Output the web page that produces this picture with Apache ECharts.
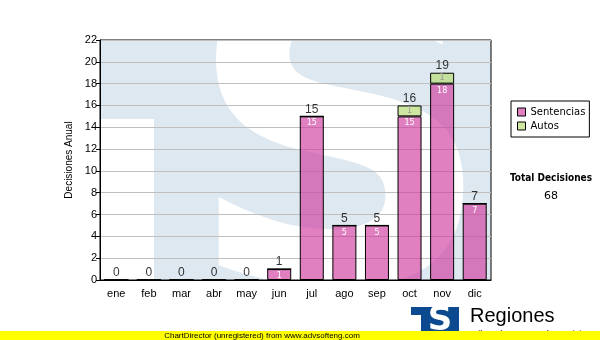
<!DOCTYPE html>
<html><head><meta charset="utf-8">
<script src="https://cdn.jsdelivr.net/npm/echarts@6/dist/echarts.min.js"></script>
<style>html,body{margin:0;padding:0;background:#fff}#c{width:600px;height:340px}</style>
</head><body><div id="c"></div>
<script>
const months = ['ene','feb','mar','abr','may','jun','jul','ago','sep','oct','nov','dic'];
const sentencias = [0,0,0,0,0,1,15,5,5,15,18,7];
const autos = [0,0,0,0,0,0,0,0,0,1,1,0];
const totals = months.map((m,i)=>sentencias[i]+autos[i]);
const grandTotal = totals.reduce((a,b)=>a+b,0);

const chart = echarts.init(document.getElementById('c'), null, {renderer:'canvas'});
const sans = 'Liberation Sans';
const dv = 'DejaVu Sans';
const PL=100, PT=40, PR=491, PB=280;
const wmBlue = '#dee8f1';

chart.setOption({
  animation:false,
  backgroundColor:'#fff',
  grid:{left:PL, top:PT, right:600-PR, bottom:340-PB, show:true, borderColor:'#000', borderWidth:1, backgroundColor:'transparent'},
  legend:{orient:'vertical', left:511, top:101, data:['Sentencias','Autos'], borderColor:'#000', borderWidth:1,
    padding:[6,4,6,6], itemWidth:8, itemHeight:8, itemGap:4, icon:'rect',
    itemStyle:{borderColor:'#000', borderWidth:1},
    textStyle:{fontFamily:dv, fontSize:10, color:'#000'}},
  xAxis:{type:'category', data:months, boundaryGap:true,
    axisLine:{lineStyle:{color:'#000'}},
    axisTick:{alignWithLabel:true, length:4, lineStyle:{color:'#000'}},
    axisLabel:{fontFamily:sans, fontSize:11, color:'#000', margin:8}},
  yAxis:{type:'value', min:0, max:22, interval:2,
    name:'Decisiones Anual', nameLocation:'middle', nameGap:19, nameRotate:90,
    nameTextStyle:{fontFamily:sans, fontSize:10, color:'#000'},
    axisLine:{show:true, lineStyle:{color:'#000'}},
    axisTick:{show:true, length:4, lineStyle:{color:'#000'}},
    axisLabel:{fontFamily:sans, fontSize:11, color:'#000', margin:3},
    splitLine:{lineStyle:{color:'#bfbfbf'}}},
  series:[
    {name:'Sentencias', type:'bar', stack:'t', barWidth:24, data:sentencias,
     itemStyle:{color:'rgba(208,60,158,0.65)', borderColor:'#000', borderWidth:1},
     label:{show:true, position:'insideTop', distance:3, color:'#fff', fontSize:8, fontFamily:dv,
       formatter:p=>p.value>0?String(p.value):''}},
    {name:'Autos', type:'bar', stack:'t', barWidth:24, data:autos,
     itemStyle:{color:'rgba(180,220,110,0.65)', borderColor:'#000', borderWidth:1},
     label:{show:true, position:'inside', color:'#999', fontSize:8, fontFamily:dv,
       formatter:p=>p.value>0?String(p.value):''}},
    {name:'Total', type:'scatter', data:totals, symbolSize:0, silent:true, z:5,
     label:{show:true, position:'top', distance:1, color:'#000', fontSize:12, fontFamily:sans}}
  ],
  graphic:[
    {type:'rect', z:-5, silent:true, shape:{x:PL,y:PT,width:PR-PL,height:PB-PT}, style:{fill:wmBlue}},
    {type:'rect', z:-4, silent:true, shape:{x:PL,y:119,width:54,height:PB-119}, style:{fill:'#fff'}},
    {type:'text', z:-4, silent:true, x:340, y:170, style:{text:'S', fill:'#fff', font:'bold 430px "DejaVu Sans"', align:'center', verticalAlign:'middle'}},
    {type:'rect', z:-3, silent:true, shape:{x:0,y:0,width:600,height:PT}, style:{fill:'#fff'}},
    {type:'rect', z:-3, silent:true, shape:{x:0,y:PB,width:600,height:340-PB}, style:{fill:'#fff'}},
    {type:'rect', z:-3, silent:true, shape:{x:0,y:0,width:PL,height:340}, style:{fill:'#fff'}},
    {type:'rect', z:-3, silent:true, shape:{x:PR,y:0,width:600-PR,height:340}, style:{fill:'#fff'}},
    {type:'text', z:10, silent:true, x:551, y:178, style:{text:'Total Decisiones', fill:'#000', font:'bold 10px "DejaVu Sans Condensed", "DejaVu Sans"', align:'center', verticalAlign:'middle'}},
    {type:'text', z:10, silent:true, x:551, y:196, style:{text:String(grandTotal), fill:'#000', font:'11px "DejaVu Sans"', align:'center', verticalAlign:'middle'}},
    {type:'rect', z:10, silent:true, shape:{x:411,y:307,width:48,height:30}, style:{fill:'#0b4a8e'}},
    {type:'rect', z:11, silent:true, shape:{x:411,y:315,width:10,height:25}, style:{fill:'#fff'}},
    {type:'text', z:11, silent:true, x:440, y:321, style:{text:'S', fill:'#fff', font:'bold 34px "DejaVu Sans"', align:'center', verticalAlign:'middle'}},
    {type:'text', z:10, silent:true, x:470, y:316, style:{text:'Regiones', fill:'#000', font:'20px "Liberation Sans"', align:'left', verticalAlign:'middle'}},
    {type:'text', z:10, silent:true, x:470, y:335, style:{text:'Tribunal Supremo de Justicia', fill:'#000', font:'9px "Liberation Sans"', align:'left', verticalAlign:'middle'}},
    {type:'rect', z:20, silent:true, shape:{x:0,y:331,width:600,height:9}, style:{fill:'#ffff00'}},
    {type:'text', z:21, silent:true, x:262, y:335.5, style:{text:'ChartDirector (unregistered) from www.advsofteng.com', fill:'#000', font:'8px "Liberation Sans"', align:'center', verticalAlign:'middle'}}
  ]
});
</script></body></html>
